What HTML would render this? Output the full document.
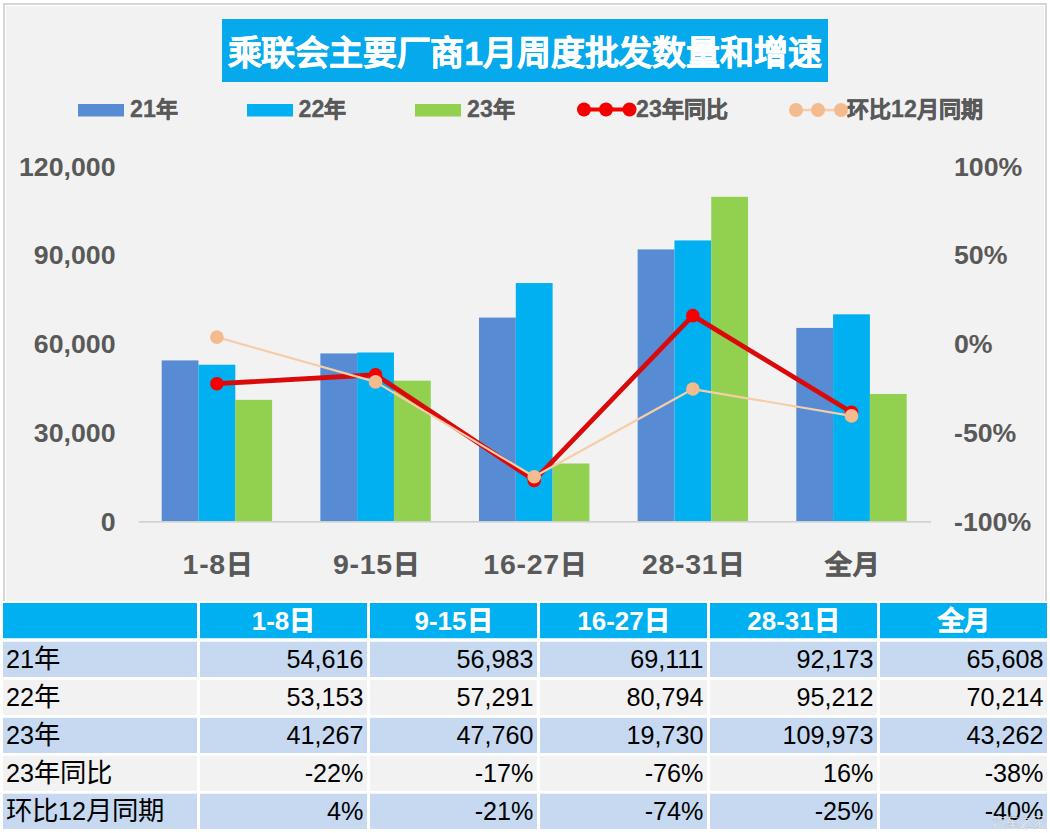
<!DOCTYPE html>
<html lang="zh-CN"><head><meta charset="utf-8">
<style>
html,body{margin:0;padding:0;background:#fff;width:1050px;height:833px;overflow:hidden}
svg{display:block;font-family:"Liberation Sans",sans-serif}
.ax{font-size:26.7px;font-weight:bold;fill:#595959}
.cat{font-size:28.5px;font-weight:bold;fill:#595959;letter-spacing:0.7px}
.cat .cj{stroke:#595959;stroke-width:0.7px;font-size:26.6px}
.th .cj{stroke:#fff;stroke-width:0.8px}
.lg{font-size:23.2px;font-weight:bold;fill:#595959;stroke:#595959;stroke-width:0.3px}
.lg .cj{font-size:22px;stroke-width:0.5px}
.tt{font-size:34px;font-weight:bold;fill:#fff;stroke:#fff;stroke-width:0.45px}
.th{font-size:26px;font-weight:bold;fill:#fff}
.td{font-size:25.2px;fill:#000}
.td .cj{font-size:26.4px}
</style></head><body>
<svg width="1050" height="833" viewBox="0 0 1050 833">
<rect x="0" y="0" width="1050" height="833" fill="#fff"/>
<rect x="3" y="3" width="1044" height="598" fill="#D6D6D6"/>
<rect x="5" y="5" width="1040" height="596" fill="#fff"/>
<rect x="6" y="6" width="1038" height="595" fill="#F2F2F2"/>
<rect x="138.7" y="521" width="792.4" height="1.6" fill="#D0D0D0"/>
<rect x="161.70" y="360.41" width="36.80" height="160.59" fill="#578CD4"/>
<rect x="198.50" y="364.73" width="36.80" height="156.27" fill="#00B0F0"/>
<rect x="235.30" y="399.86" width="36.80" height="121.14" fill="#92D050"/>
<rect x="320.35" y="353.42" width="36.80" height="167.58" fill="#578CD4"/>
<rect x="357.15" y="352.51" width="36.80" height="168.49" fill="#00B0F0"/>
<rect x="393.95" y="380.67" width="36.80" height="140.33" fill="#92D050"/>
<rect x="479.00" y="317.58" width="36.80" height="203.42" fill="#578CD4"/>
<rect x="515.80" y="283.05" width="36.80" height="237.95" fill="#00B0F0"/>
<rect x="552.60" y="463.50" width="36.80" height="57.50" fill="#92D050"/>
<rect x="637.65" y="249.43" width="36.80" height="271.57" fill="#578CD4"/>
<rect x="674.45" y="240.45" width="36.80" height="280.55" fill="#00B0F0"/>
<rect x="711.25" y="196.83" width="36.80" height="324.17" fill="#92D050"/>
<rect x="796.30" y="327.93" width="36.80" height="193.07" fill="#578CD4"/>
<rect x="833.10" y="314.32" width="36.80" height="206.68" fill="#00B0F0"/>
<rect x="869.90" y="393.96" width="36.80" height="127.04" fill="#92D050"/>
<polyline points="216.90,383.68 375.55,374.73 534.20,480.34 692.85,315.66 851.50,412.32" fill="none" stroke="#DA0A0A" stroke-width="4.8" stroke-linejoin="round"/>
<circle cx="216.90" cy="383.68" r="6.8" fill="#F40000"/>
<circle cx="375.55" cy="374.73" r="6.8" fill="#F40000"/>
<circle cx="534.20" cy="480.34" r="6.8" fill="#F40000"/>
<circle cx="692.85" cy="315.66" r="6.8" fill="#F40000"/>
<circle cx="851.50" cy="412.32" r="6.8" fill="#F40000"/>
<polyline points="216.90,337.14 375.55,381.89 534.20,476.76 692.85,389.05 851.50,415.90" fill="none" stroke="#F6CDA8" stroke-width="2.2" stroke-linejoin="round"/>
<circle cx="216.90" cy="337.14" r="6.8" fill="#F4BB8F"/>
<circle cx="375.55" cy="381.89" r="6.8" fill="#F4BB8F"/>
<circle cx="534.20" cy="476.76" r="6.8" fill="#F4BB8F"/>
<circle cx="692.85" cy="389.05" r="6.8" fill="#F4BB8F"/>
<circle cx="851.50" cy="415.90" r="6.8" fill="#F4BB8F"/>
<text x="115.5" y="530.60" text-anchor="end" class="ax">0</text>
<text x="115.5" y="441.90" text-anchor="end" class="ax">30,000</text>
<text x="115.5" y="352.80" text-anchor="end" class="ax">60,000</text>
<text x="115.5" y="263.70" text-anchor="end" class="ax">90,000</text>
<text x="115.5" y="176.00" text-anchor="end" class="ax">120,000</text>
<text x="954" y="176.20" class="ax">100%</text>
<text x="954" y="263.70" class="ax">50%</text>
<text x="954" y="353.00" class="ax">0%</text>
<text x="954" y="441.90" class="ax">-50%</text>
<text x="954" y="531.00" class="ax">-100%</text>
<text x="218.10" y="574" text-anchor="middle" class="cat">1-8<tspan class="cj">日</tspan></text>
<text x="376.75" y="574" text-anchor="middle" class="cat">9-15<tspan class="cj">日</tspan></text>
<text x="535.40" y="574" text-anchor="middle" class="cat">16-27<tspan class="cj">日</tspan></text>
<text x="694.05" y="574" text-anchor="middle" class="cat">28-31<tspan class="cj">日</tspan></text>
<text x="852.70" y="574" text-anchor="middle" class="cat"><tspan class="cj">全月</tspan></text>
<rect x="78" y="104" width="46" height="12.5" fill="#578CD4"/>
<text x="130" y="117" class="lg">21<tspan class="cj">年</tspan></text>
<rect x="247" y="104" width="46" height="12.5" fill="#00B0F0"/>
<text x="298.5" y="117" class="lg">22<tspan class="cj">年</tspan></text>
<rect x="415" y="104" width="46" height="12.5" fill="#92D050"/>
<text x="467" y="117" class="lg">23<tspan class="cj">年</tspan></text>
<line x1="584" y1="109.5" x2="630" y2="109.5" stroke="#F40000" stroke-width="4"/>
<circle cx="584" cy="109.5" r="7" fill="#F40000"/>
<circle cx="606" cy="109.5" r="7" fill="#F40000"/>
<circle cx="629.5" cy="109.5" r="7" fill="#F40000"/>
<text x="636" y="117" class="lg">23<tspan class="cj">年同比</tspan></text>
<line x1="796" y1="110" x2="841" y2="110" stroke="#F6CDA8" stroke-width="2.3"/>
<circle cx="796" cy="110" r="7" fill="#F4BB8F"/>
<circle cx="818" cy="110" r="7" fill="#F4BB8F"/>
<circle cx="841" cy="110" r="7" fill="#F4BB8F"/>
<text x="847" y="117" class="lg"><tspan class="cj">环比</tspan>12<tspan class="cj">月同期</tspan></text>
<rect x="222" y="19" width="606" height="63" fill="#05A9EC"/>
<text x="227.5" y="65.3" textLength="594" lengthAdjust="spacing" class="tt">乘联会主要厂商1月周度批发数量和增速</text>
<rect x="3" y="603" width="194" height="35.2" fill="#00B0F0"/>
<rect x="200" y="603" width="167" height="35.2" fill="#00B0F0"/>
<text x="283.5" y="629.7" text-anchor="middle" class="th">1-8<tspan class="cj">日</tspan></text>
<rect x="370" y="603" width="167" height="35.2" fill="#00B0F0"/>
<text x="453.5" y="629.7" text-anchor="middle" class="th">9-15<tspan class="cj">日</tspan></text>
<rect x="540" y="603" width="167" height="35.2" fill="#00B0F0"/>
<text x="623.5" y="629.7" text-anchor="middle" class="th">16-27<tspan class="cj">日</tspan></text>
<rect x="710" y="603" width="167" height="35.2" fill="#00B0F0"/>
<text x="793.5" y="629.7" text-anchor="middle" class="th">28-31<tspan class="cj">日</tspan></text>
<rect x="880" y="603" width="167" height="35.2" fill="#00B0F0"/>
<text x="963.5" y="629.7" text-anchor="middle" class="th"><tspan class="cj">全月</tspan></text>
<rect x="3" y="641.80" width="194" height="35.2" fill="#C6D9F0"/>
<rect x="200" y="641.80" width="167" height="35.2" fill="#C6D9F0"/>
<rect x="370" y="641.80" width="167" height="35.2" fill="#C6D9F0"/>
<rect x="540" y="641.80" width="167" height="35.2" fill="#C6D9F0"/>
<rect x="710" y="641.80" width="167" height="35.2" fill="#C6D9F0"/>
<rect x="880" y="641.80" width="167" height="35.2" fill="#C6D9F0"/>
<text x="6" y="668.20" class="td">21<tspan class="cj">年</tspan></text>
<text x="363.5" y="668.20" text-anchor="end" class="td">54,616</text>
<text x="533.5" y="668.20" text-anchor="end" class="td">56,983</text>
<text x="703.5" y="668.20" text-anchor="end" class="td">69,111</text>
<text x="873.5" y="668.20" text-anchor="end" class="td">92,173</text>
<text x="1043.5" y="668.20" text-anchor="end" class="td">65,608</text>
<rect x="3" y="679.80" width="194" height="35.2" fill="#F2F2F2"/>
<rect x="200" y="679.80" width="167" height="35.2" fill="#F2F2F2"/>
<rect x="370" y="679.80" width="167" height="35.2" fill="#F2F2F2"/>
<rect x="540" y="679.80" width="167" height="35.2" fill="#F2F2F2"/>
<rect x="710" y="679.80" width="167" height="35.2" fill="#F2F2F2"/>
<rect x="880" y="679.80" width="167" height="35.2" fill="#F2F2F2"/>
<text x="6" y="706.20" class="td">22<tspan class="cj">年</tspan></text>
<text x="363.5" y="706.20" text-anchor="end" class="td">53,153</text>
<text x="533.5" y="706.20" text-anchor="end" class="td">57,291</text>
<text x="703.5" y="706.20" text-anchor="end" class="td">80,794</text>
<text x="873.5" y="706.20" text-anchor="end" class="td">95,212</text>
<text x="1043.5" y="706.20" text-anchor="end" class="td">70,214</text>
<rect x="3" y="717.80" width="194" height="35.2" fill="#C6D9F0"/>
<rect x="200" y="717.80" width="167" height="35.2" fill="#C6D9F0"/>
<rect x="370" y="717.80" width="167" height="35.2" fill="#C6D9F0"/>
<rect x="540" y="717.80" width="167" height="35.2" fill="#C6D9F0"/>
<rect x="710" y="717.80" width="167" height="35.2" fill="#C6D9F0"/>
<rect x="880" y="717.80" width="167" height="35.2" fill="#C6D9F0"/>
<text x="6" y="744.20" class="td">23<tspan class="cj">年</tspan></text>
<text x="363.5" y="744.20" text-anchor="end" class="td">41,267</text>
<text x="533.5" y="744.20" text-anchor="end" class="td">47,760</text>
<text x="703.5" y="744.20" text-anchor="end" class="td">19,730</text>
<text x="873.5" y="744.20" text-anchor="end" class="td">109,973</text>
<text x="1043.5" y="744.20" text-anchor="end" class="td">43,262</text>
<rect x="3" y="755.70" width="194" height="35.2" fill="#F2F2F2"/>
<rect x="200" y="755.70" width="167" height="35.2" fill="#F2F2F2"/>
<rect x="370" y="755.70" width="167" height="35.2" fill="#F2F2F2"/>
<rect x="540" y="755.70" width="167" height="35.2" fill="#F2F2F2"/>
<rect x="710" y="755.70" width="167" height="35.2" fill="#F2F2F2"/>
<rect x="880" y="755.70" width="167" height="35.2" fill="#F2F2F2"/>
<text x="6" y="782.10" class="td">23<tspan class="cj">年同比</tspan></text>
<text x="363.5" y="782.10" text-anchor="end" class="td">-22%</text>
<text x="533.5" y="782.10" text-anchor="end" class="td">-17%</text>
<text x="703.5" y="782.10" text-anchor="end" class="td">-76%</text>
<text x="873.5" y="782.10" text-anchor="end" class="td">16%</text>
<text x="1043.5" y="782.10" text-anchor="end" class="td">-38%</text>
<rect x="3" y="793.70" width="194" height="35.2" fill="#C6D9F0"/>
<rect x="200" y="793.70" width="167" height="35.2" fill="#C6D9F0"/>
<rect x="370" y="793.70" width="167" height="35.2" fill="#C6D9F0"/>
<rect x="540" y="793.70" width="167" height="35.2" fill="#C6D9F0"/>
<rect x="710" y="793.70" width="167" height="35.2" fill="#C6D9F0"/>
<rect x="880" y="793.70" width="167" height="35.2" fill="#C6D9F0"/>
<text x="6" y="820.10" class="td"><tspan class="cj">环比</tspan>12<tspan class="cj">月同期</tspan></text>
<text x="363.5" y="820.10" text-anchor="end" class="td">4%</text>
<text x="533.5" y="820.10" text-anchor="end" class="td">-21%</text>
<text x="703.5" y="820.10" text-anchor="end" class="td">-74%</text>
<text x="873.5" y="820.10" text-anchor="end" class="td">-25%</text>
<text x="1043.5" y="820.10" text-anchor="end" class="td">-40%</text>
<text x="992" y="827" textLength="53" lengthAdjust="spacingAndGlyphs" style="font-size:13.5px;fill:#fff;fill-opacity:0.75;stroke:#333;stroke-opacity:0.25;stroke-width:0.4px">汽车之家</text>
</svg>
</body></html>
